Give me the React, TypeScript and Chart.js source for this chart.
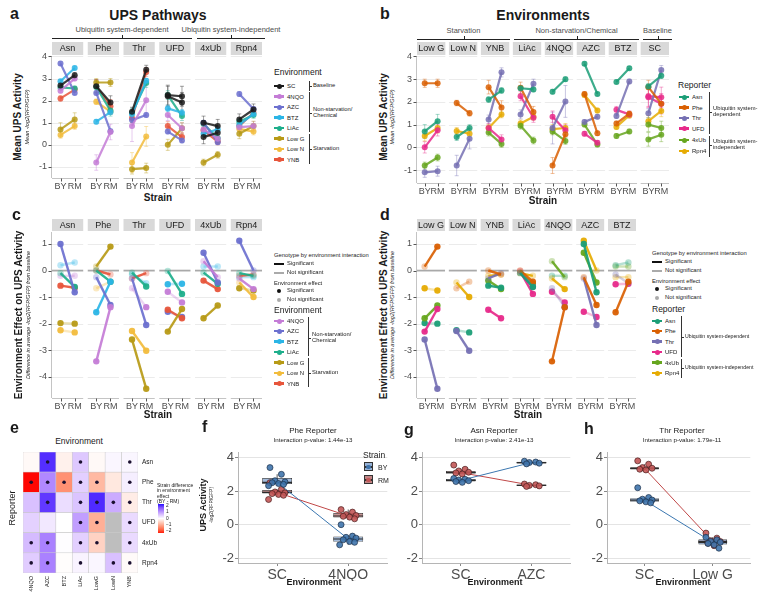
import React, { useEffect, useRef } from 'react';
import { Chart, registerables } from 'chart.js';
Chart.register(...registerables);

const FONT = '"Liberation Sans", Arial, Helvetica, sans-serif';
Chart.defaults.font.family = FONT;

// ---------------- categories & tick labels ----------------
const reporters = ['Asn', 'Phe', 'Thr', 'UFD', '4xUb', 'Rpn4'];
const environments = ['SC', '4NQO', 'AZC', 'BTZ', 'LiAc', 'Low G', 'Low N', 'YNB'];
const effEnvironments = ['4NQO', 'AZC', 'BTZ', 'LiAc', 'Low G', 'Low N', 'YNB'];
const envFacetsB = ['Low G', 'Low N', 'YNB', 'LiAc', '4NQO', 'AZC', 'BTZ', 'SC'];
const envFacetsD = ['Low G', 'Low N', 'YNB', 'LiAc', '4NQO', 'AZC', 'BTZ'];
const heatEnvLabels = ['4NQO', 'AZC', 'BTZ', 'LiAc', 'LowG', 'LowN', 'YNB'];
const strainTicks = ['BY', 'RM'];
const yTicksMean = [-1, 0, 1, 2, 3, 4];
const yTicksEffect = [-4, -3, -2, -1, 0, 1];
const yTicksBox = [-2, 0, 2, 4];
const colorbarTicks = [2, 1, 0, -1, -2];

// ---------------- mean UPS activity (order of `environments`) ----------------
const asnBY = [2.68, 2.45, 3.68, 2.88, 2.6, 0.7, 0.45, 2.1];
const asnRM = [3.15, 3.0, 2.35, 3.48, 2.55, 1.15, 0.85, 2.5];
const pheBY = [2.65, -0.8, 2.35, 1.05, 2.62, 2.82, 1.95, 2.65];
const pheRM = [1.92, 0.58, 0.62, 1.48, 1.55, 2.82, 1.5, 1.75];
const thrBY = [1.5, 0.85, 1.12, 1.38, 1.45, -1.1, -0.8, 1.22];
const thrRM = [3.4, 2.02, 1.35, 2.9, 2.8, -1.05, 0.38, 3.3];
const ufdBY = [2.25, 1.35, 0.6, 1.65, 2.25, 0.0, null, 0.85];
const ufdRM = [2.2, 0.75, 0.2, 1.45, 1.3, 0.75, null, 0.35];
const ub4BY = [1.0, 0.7, 1.0, 0.5, 0.95, -0.8, null, 0.65];
const ub4RM = [0.85, 0.28, 0.12, 0.7, 0.3, -0.45, null, 0.15];
const rpnBY = [1.15, 0.8, 2.3, 0.9, 1.05, 0.5, 0.72, 0.85];
const rpnRM = [1.6, 0.85, 1.62, 1.4, 1.35, 0.85, 0.6, 1.45];
// second SC baseline measurement (order of `reporters`)
const sc2BY = [null, null, null, 2.2, 0.35, null];
const sc2RM = [null, null, null, 1.92, 0.55, null];
// error bar half-widths (order of `environments`)
const asnErr = [0.12, 0.1, 0.08, 0.08, 0.1, 0.3, 0.15, 0.12];
const pheErr = [0.3, 0.35, 0.1, 0.1, 0.25, 0.18, 0.12, 0.3];
const thrErr = [0.2, 0.7, 0.1, 0.1, 0.2, 0.22, 0.45, 0.2];
const ufdErr = [0.45, 0.25, 0.1, 0.15, 0.2, 0.25, 0, 0.2];
const ub4Err = [0.3, 0.15, 0.1, 0.1, 0.15, 0.15, 0, 0.15];
const rpnErr = [0.25, 0.2, 0.1, 0.1, 0.15, 0.22, 0.15, 0.15];

// ---------------- environment effects (order of `effEnvironments`) ----------------
const asnEffBY = [-0.2, 1.0, 0.2, -0.1, -1.98, -2.25, -0.57];
const asnEffRM = [-0.2, -0.82, 0.3, -0.62, -2.0, -2.33, -0.65];
const asnInt = [0, 1, 0, 1, 0, 0, 1];
const asnSigBY = [0, 1, 0, 0, 1, 1, 1];
const asnSigRM = [0, 1, 0, 1, 1, 1, 1];
const pheEffBY = [-3.42, -0.25, -1.57, 0.0, 0.15, -0.67, 0.0];
const pheEffRM = [-1.38, -1.3, -0.42, -0.42, 0.9, -0.42, -0.15];
const pheInt = [1, 1, 1, 1, 1, 0, 1];
const pheSigBY = [1, 0, 1, 0, 0, 0, 0];
const pheSigRM = [1, 1, 1, 1, 1, 0, 0];
const thrEffBY = [-0.67, -0.3, -0.15, -0.08, -2.6, -2.28, -0.3];
const thrEffRM = [-1.38, -2.05, -0.48, -0.6, -4.45, -3.02, -0.1];
const thrInt = [0, 1, 0, 1, 1, 1, 1];
const thrSigBY = [0, 0, 0, 0, 1, 1, 0];
const thrSigRM = [1, 1, 0, 1, 1, 1, 0];
const ufdEffBY = [-0.8, -1.55, -0.52, -0.02, -2.3, null, -1.48];
const ufdEffRM = [-1.2, -1.75, -0.5, -0.88, -1.45, null, -1.8];
const ufdInt = [0, 0, 0, 1, 1, 0, 1];
const ufdSigBY = [1, 1, 1, 0, 1, 0, 1];
const ufdSigRM = [1, 1, 1, 1, 1, 0, 1];
const ub4EffBY = [0.35, 0.67, 0.15, -0.08, -1.8, null, -0.38];
const ub4EffRM = [-0.25, -0.45, 0.15, -0.5, -1.32, null, -0.7];
const ub4Int = [1, 1, 0, 1, 1, 0, 1];
const ub4SigBY = [0, 1, 0, 0, 1, 0, 1];
const ub4SigRM = [0, 1, 0, 1, 1, 0, 1];
const rpnEffBY = [-0.3, 1.12, -0.25, -0.1, -0.67, -0.45, -0.2];
const rpnEffRM = [-0.7, 0.0, -0.25, -0.2, -0.75, -1.0, -0.15];
const rpnInt = [1, 1, 0, 1, 0, 1, 1];
const rpnSigBY = [0, 1, 0, 0, 1, 0, 0];
const rpnSigRM = [1, 0, 0, 0, 1, 1, 0];

// ---------------- heatmap: strain difference in environment effect (BY - RM) ----------------
const asnHm = [-0.06, 1.82, -0.15, 0.48, -0.06, 0.08, 0.08];
const pheHm = [-2.04, 1.05, -1.15, 0.42, -0.75, -0.25, 0.15];
const thrHm = [0.55, 1.75, 0.3, 0.52, 1.85, 0.74, -0.2];
const ufdHm = [0.4, 0.2, 0.0, 0.86, -0.85, null, 0.32];
const ub4Hm = [0.6, 1.12, 0.02, 0.42, -0.48, null, 0.32];
const rpnHm = [0.45, 1.12, -0.02, 0.1, 0.08, 0.55, -0.05];

// ---------------- single reporter box plots: [min, q1, median, q3, max] and points ----------------
const fEnvs = ['SC', '4NQO'];
const fPtsBY_1 = [3.4, 3.0, 2.62, 2.55, 2.5, 2.45, 2.4, 2.32];
const fPtsBY_2 = [0.0, -0.68, -0.75, -0.8, -0.9, -1.0, -1.05, -1.2];
const fPtsRM_1 = [2.5, 2.1, 1.95, 1.9, 1.85, 1.8, 1.75, 1.5];
const fPtsRM_2 = [0.9, 0.75, 0.6, 0.55, 0.5, 0.45, 0.35];
const fBoxBY_1 = [2.32, 2.42, 2.52, 2.78, 3.0];
const fBoxBY_2 = [-1.2, -1.02, -0.85, -0.7, -0.68];
const fBoxRM_1 = [1.75, 1.85, 1.92, 2.06, 2.1];
const fBoxRM_2 = [0.35, 0.43, 0.52, 0.7, 0.9];

const gEnvs = ['SC', 'AZC'];
const gPtsBY_1 = [2.75, 2.7, 2.66, 2.62, 2.57, 2.52];
const gPtsBY_2 = [3.78, 3.73, 3.7, 3.66, 3.62];
const gPtsRM_1 = [3.55, 3.3, 3.2, 3.12, 3.08, 3.02];
const gPtsRM_2 = [2.42, 2.38, 2.34, 2.31, 2.28];
const gBoxBY_1 = [2.52, 2.57, 2.64, 2.72, 2.75];
const gBoxBY_2 = [3.62, 3.64, 3.7, 3.75, 3.78];
const gBoxRM_1 = [3.02, 3.05, 3.1, 3.2, 3.3];
const gBoxRM_2 = [2.28, 2.3, 2.35, 2.39, 2.42];

const hEnvs = ['SC', 'Low G'];
const hPtsBY_1 = [2.2, 1.62, 1.52, 1.47, 1.42, 1.36, 1.3];
const hPtsBY_2 = [-0.75, -0.9, -1.0, -1.05, -1.12, -1.2, -1.4];
const hPtsRM_1 = [3.8, 3.6, 3.4, 3.36, 3.3, 3.26];
const hPtsRM_2 = [-0.5, -0.8, -0.95, -1.0, -1.1, -1.25];
const hBoxBY_1 = [1.3, 1.36, 1.46, 1.58, 1.62];
const hBoxBY_2 = [-1.4, -1.18, -1.05, -0.88, -0.75];
const hBoxRM_1 = [3.26, 3.29, 3.35, 3.42, 3.6];
const hBoxRM_2 = [-1.25, -1.12, -1.0, -0.88, -0.8];
const jitterX = [-0.1, 0.06, -0.03, 0.11, -0.07, 0.02, 0.09, -0.12, 0.0];

// ---------------- styling ----------------
const envColors = ['#1A1A1A', '#C47CD6', '#6C70CF', '#2BB5E6', '#1DAE8B', '#B79A16', '#F2BC3C', '#E7553B'];
const reporterColors = ['#1B9E77', '#D95F02', '#7570B3', '#E7298A', '#66A61E', '#E6AB02'];

const meanBY = [asnBY, pheBY, thrBY, ufdBY, ub4BY, rpnBY];
const meanRM = [asnRM, pheRM, thrRM, ufdRM, ub4RM, rpnRM];
const meanErr = [asnErr, pheErr, thrErr, ufdErr, ub4Err, rpnErr];
const effBY = [asnEffBY, pheEffBY, thrEffBY, ufdEffBY, ub4EffBY, rpnEffBY];
const effRM = [asnEffRM, pheEffRM, thrEffRM, ufdEffRM, ub4EffRM, rpnEffRM];
const effInt = [asnInt, pheInt, thrInt, ufdInt, ub4Int, rpnInt];
const effSigBY = [asnSigBY, pheSigBY, thrSigBY, ufdSigBY, ub4SigBY, rpnSigBY];
const effSigRM = [asnSigRM, pheSigRM, thrSigRM, ufdSigRM, ub4SigRM, rpnSigRM];
const heatRows = [asnHm, pheHm, thrHm, ufdHm, ub4Hm, rpnHm];

const rgba = (hex: string, a: number) => {
  const n = parseInt(hex.slice(1), 16);
  return `rgba(${(n >> 16) & 255},${(n >> 8) & 255},${n & 255},${a})`;
};

// diverging red-white-blue in CIELAB (like scale_fill_gradient2)
const lin = (c: number) => { c /= 255; return c <= 0.04045 ? c / 12.92 : Math.pow((c + 0.055) / 1.055, 2.4); };
const unlin = (c: number) => { const v = c <= 0.0031308 ? 12.92 * c : 1.055 * Math.pow(c, 1 / 2.4) - 0.055; return Math.round(Math.max(0, Math.min(1, v)) * 255); };
const toLab = (rgb: number[]) => {
  const R = lin(rgb[0]), G = lin(rgb[1]), B = lin(rgb[2]);
  const X = (0.4124 * R + 0.3576 * G + 0.1805 * B) / 0.95047;
  const Y = 0.2126 * R + 0.7152 * G + 0.0722 * B;
  const Z = (0.0193 * R + 0.1192 * G + 0.9505 * B) / 1.08883;
  const f = (t: number) => (t > 0.008856 ? Math.cbrt(t) : 7.787 * t + 16 / 116);
  const fx = f(X), fy = f(Y), fz = f(Z);
  return [116 * fy - 16, 500 * (fx - fy), 200 * (fy - fz)];
};
const fromLab = (lab: number[]) => {
  const fy = (lab[0] + 16) / 116, fx = fy + lab[1] / 500, fz = fy - lab[2] / 200;
  const inv = (t: number) => (t * t * t > 0.008856 ? t * t * t : (t - 16 / 116) / 7.787);
  const X = inv(fx) * 0.95047, Y = inv(fy), Z = inv(fz) * 1.08883;
  return [
    unlin(3.2406 * X - 1.5372 * Y - 0.4986 * Z),
    unlin(-0.9689 * X + 1.8758 * Y + 0.0415 * Z),
    unlin(0.0557 * X - 0.204 * Y + 1.057 * Z),
  ];
};
const LAB_W = toLab([255, 255, 255]);
const LAB_B = toLab([0, 0, 255]);
const LAB_R = toLab([255, 0, 0]);
const divColor = (v: number) => {
  const t = Math.min(1, Math.abs(v) / 2.05);
  const end = v >= 0 ? LAB_B : LAB_R;
  const c = fromLab(LAB_W.map((w, k) => w + (end[k] - w) * t));
  return `rgb(${c[0]},${c[1]},${c[2]})`;
};

// ---------------- facet helpers ----------------
const SPAN = 2.2;

function facetPlugin(labels: string[], gap: number, stripH: number, grid: number[], zero: boolean) {
  const P = SPAN + gap;
  const line = (ctx: any, a: number, b: number, c: number, d: number) => { ctx.beginPath(); ctx.moveTo(a, b); ctx.lineTo(c, d); ctx.stroke(); };
  return {
    id: 'facets',
    beforeDatasetsDraw(chart: any) {
      const { ctx, chartArea: ca, scales } = chart;
      const xs = scales.x, ys = scales.y;
      ctx.save();
      labels.forEach((lab, i) => {
        const x0 = xs.getPixelForValue(i * P), x1 = xs.getPixelForValue(i * P + SPAN);
        ctx.fillStyle = '#D9D9D9';
        ctx.fillRect(x0, ca.top - stripH - 1, x1 - x0, stripH);
        ctx.fillStyle = '#1A1A1A';
        ctx.font = `9px ${FONT}`;
        ctx.textAlign = 'center';
        ctx.textBaseline = 'middle';
        ctx.fillText(lab, (x0 + x1) / 2, ca.top - 1 - stripH / 2 + 0.5);
        ctx.lineWidth = 1;
        ctx.strokeStyle = '#EBEBEB';
        grid.forEach((v) => { const py = Math.round(ys.getPixelForValue(v)) + 0.5; line(ctx, x0, py, x1, py); });
        if (zero) {
          ctx.strokeStyle = '#A9A9A9';
          ctx.lineWidth = 1.6;
          const py = ys.getPixelForValue(0);
          line(ctx, x0, py, x1, py);
        }
        ctx.strokeStyle = '#C4C4C4';
        ctx.lineWidth = 1;
        const by = Math.round(ca.bottom) + 0.5;
        line(ctx, x0, by, x1, by);
        ctx.strokeStyle = '#555';
        [0.6, 1.6].forEach((o) => { const px = Math.round(xs.getPixelForValue(i * P + o)) + 0.5; line(ctx, px, by, px, by + 3); });
      });
      const lx = Math.round(ca.left) - 0.5;
      ctx.strokeStyle = '#C4C4C4';
      ctx.lineWidth = 1;
      line(ctx, lx, ca.top, lx, ca.bottom);
      ctx.strokeStyle = '#555';
      grid.forEach((v) => { const py = Math.round(ys.getPixelForValue(v)) + 0.5; line(ctx, lx - 3, py, lx, py); });
      // error bars
      chart.data.datasets.forEach((ds: any, di: number) => {
        if (!ds.errs) return;
        const meta = chart.getDatasetMeta(di);
        ctx.strokeStyle = ds.errColor;
        ctx.lineWidth = 0.8;
        meta.data.forEach((pt: any, j: number) => {
          const d = ds.data[j];
          const e = ds.errs[j];
          if (!d || d.y == null || !e) return;
          const ya = ys.getPixelForValue(d.y - e), yb = ys.getPixelForValue(d.y + e);
          line(ctx, pt.x, ya, pt.x, yb);
          line(ctx, pt.x - 2, ya, pt.x + 2, ya);
          line(ctx, pt.x - 2, yb, pt.x + 2, yb);
        });
      });
      ctx.restore();
    },
  };
}

function facetConfig(o: { labels: string[]; gap: number; datasets: any[]; yMin: number; yMax: number; grid: number[]; zero: boolean; yAxisW: number; xAxisH: number; stripH: number }) {
  const P = SPAN + o.gap;
  const n = o.labels.length;
  const xMax = n * P - o.gap;
  const xt: number[] = [];
  for (let i = 0; i < n; i++) xt.push(i * P + 0.6, i * P + 1.6);
  return {
    type: 'line',
    data: { datasets: o.datasets },
    options: {
      animation: false,
      responsive: false,
      devicePixelRatio: 1,
      layout: { padding: { top: o.stripH + 1, right: 1, left: 0, bottom: 0 } },
      plugins: { legend: { display: false }, tooltip: { enabled: false } },
      scales: {
        x: {
          type: 'linear', min: 0, max: xMax,
          grid: { display: false, drawTicks: false }, border: { display: false },
          afterBuildTicks: (s: any) => { s.ticks = xt.map((v) => ({ value: v })); },
          afterFit: (s: any) => { s.height = o.xAxisH; },
          ticks: {
            autoSkip: false, maxRotation: 0, minRotation: 0, padding: 3,
            font: { size: 9, family: FONT }, color: '#4D4D4D',
            callback: (v: any) => { const r = v - Math.floor(v / P + 1e-9) * P; return r < 1.1 ? strainTicks[0] : strainTicks[1]; },
          },
        },
        y: {
          type: 'linear', min: o.yMin, max: o.yMax,
          grid: { display: false, drawTicks: false }, border: { display: false },
          afterBuildTicks: (s: any) => { s.ticks = o.grid.map((v) => ({ value: v })); },
          afterFit: (s: any) => { s.width = o.yAxisW; },
          ticks: { padding: 5, font: { size: 9, family: FONT }, color: '#4D4D4D', callback: (v: any) => String(v) },
        },
      },
    },
    plugins: [facetPlugin(o.labels, o.gap, o.stripH, o.grid, o.zero)],
  };
}

function meanSeries(count: number, gap: number, getBY: (f: number) => any, getRM: (f: number) => any, getErr: (f: number) => number) {
  const P = SPAN + gap;
  const data: any[] = [];
  const errs: number[] = [];
  for (let f = 0; f < count; f++) {
    data.push({ x: f * P + 0.6, y: getBY(f) }, { x: f * P + 1.6, y: getRM(f) }, { x: f * P + 2.1, y: null });
    errs.push(getErr(f), getErr(f), 0);
  }
  return { data, errs };
}

function meanDataset(color: string, s: { data: any[]; errs: number[] }) {
  return {
    data: s.data, errs: s.errs, errColor: rgba(color, 0.5),
    borderColor: rgba(color, 0.85), backgroundColor: rgba(color, 0.85),
    pointBackgroundColor: rgba(color, 0.85), pointBorderWidth: 0, pointRadius: 3,
    borderWidth: 2.2, spanGaps: false, tension: 0,
  };
}

function segDataset(color: string, facet: number, gap: number, by: number, rm: number, intSig: number, sBY: number, sRM: number) {
  const P = SPAN + gap;
  return {
    data: [{ x: facet * P + 0.6, y: by }, { x: facet * P + 1.6, y: rm }],
    borderColor: rgba(color, intSig ? 0.92 : 0.32),
    pointBackgroundColor: [rgba(color, sBY ? 0.95 : 0.32), rgba(color, sRM ? 0.95 : 0.32)],
    pointBorderWidth: 0, pointRadius: 3.2, borderWidth: 2.4, order: intSig ? 0 : 1,
  };
}

// ---------------- panel data builders ----------------
const GAP_A = 0.32, GAP_B = 0.28, GAP_D = 0.3;

const datasetsA = (() => {
  const ds: any[] = [];
  ds.push(meanDataset(envColors[0], meanSeries(6, GAP_A, (r) => sc2BY[r], (r) => sc2RM[r], (r) => meanErr[r][0])));
  environments.forEach((_, e) => {
    ds.push(meanDataset(envColors[e], meanSeries(6, GAP_A, (r) => meanBY[r][e], (r) => meanRM[r][e], (r) => meanErr[r][e])));
  });
  return ds;
})();

const datasetsB = (() => {
  const ds: any[] = [];
  reporters.forEach((_, r) => {
    const idx = (f: number) => environments.indexOf(envFacetsB[f]);
    ds.push(meanDataset(reporterColors[r], meanSeries(8, GAP_B, (f) => meanBY[r][idx(f)], (f) => meanRM[r][idx(f)], (f) => meanErr[r][idx(f)])));
    if (sc2BY[r] != null) {
      ds.push(meanDataset(reporterColors[r], meanSeries(8, GAP_B,
        (f) => (envFacetsB[f] === 'SC' ? sc2BY[r] : null),
        (f) => (envFacetsB[f] === 'SC' ? sc2RM[r] : null),
        () => meanErr[r][0])));
    }
  });
  return ds;
})();

const datasetsC = (() => {
  const ds: any[] = [];
  reporters.forEach((_, r) => {
    effEnvironments.forEach((_e, e) => {
      if (effBY[r][e] == null) return;
      ds.push(segDataset(envColors[e + 1], r, GAP_A, effBY[r][e] as number, effRM[r][e] as number, effInt[r][e], effSigBY[r][e], effSigRM[r][e]));
    });
  });
  return ds;
})();

const datasetsD = (() => {
  const ds: any[] = [];
  envFacetsD.forEach((env, f) => {
    const e = effEnvironments.indexOf(env);
    reporters.forEach((_, r) => {
      if (effBY[r][e] == null) return;
      ds.push(segDataset(reporterColors[r], f, GAP_D, effBY[r][e] as number, effRM[r][e] as number, effInt[r][e], effSigBY[r][e], effSigRM[r][e]));
    });
  });
  return ds;
})();

function heatConfig() {
  const datasets: any[] = heatRows.map((row, ri) => ({
    type: 'bar',
    data: row.map(() => [heatRows.length - 1 - ri, heatRows.length - ri]),
    backgroundColor: row.map((v) => (v == null ? '#BEBEBE' : divColor(v))),
    borderColor: 'rgba(175,175,175,0.55)', borderWidth: 0.6, borderSkipped: false,
    barPercentage: 1, categoryPercentage: 1, grouped: false, order: 2,
  }));
  const dots: any[] = [];
  effInt.forEach((row, ri) => row.forEach((s, ci) => { if (s) dots.push({ x: heatEnvLabels[ci], y: heatRows.length - 0.5 - ri }); }));
  datasets.push({ type: 'scatter', data: dots, pointRadius: 1.8, pointBackgroundColor: '#1B1030', pointBorderWidth: 0, order: 0 });
  return {
    type: 'bar',
    data: { labels: heatEnvLabels, datasets },
    options: {
      animation: false, responsive: false, devicePixelRatio: 1,
      layout: { padding: 0 },
      plugins: { legend: { display: false }, tooltip: { enabled: false } },
      scales: {
        x: {
          type: 'category', grid: { display: false, drawTicks: false }, border: { display: false },
          ticks: { maxRotation: 90, minRotation: 90, padding: 3, font: { size: 5.5, family: FONT }, color: '#1A1A1A' },
          afterFit: (s: any) => { s.height = 20; },
        },
        y: {
          type: 'linear', position: 'right', min: 0, max: heatRows.length,
          grid: { display: false, drawTicks: false }, border: { display: false },
          afterBuildTicks: (s: any) => { s.ticks = reporters.map((_, i) => ({ value: i + 0.5 })); },
          afterFit: (s: any) => { s.width = 22; },
          ticks: { padding: 4, font: { size: 6.5, family: FONT }, color: '#1A1A1A', callback: (v: any) => reporters[Math.round(reporters.length - 0.5 - v)] },
        },
      },
    },
  };
}

const BY_COL = '#3F74AC', RM_COL = '#C25656';

function boxConfig(envs: string[], boxBY: number[][], boxRM: number[][], ptsBY: number[][], ptsRM: number[][]) {
  const pts = (arrs: number[][]) => arrs.flatMap((arr, ei) => arr.map((v, i) => ({ x: ei + 1 + jitterX[i % jitterX.length], y: v })));
  const rng = (boxes: number[][], lo: number, hi: number) => boxes.map((b, ei) => ({ x: ei + 1, y: [b[lo], b[hi]] }));
  const med = (boxes: number[][]) => boxes.map((b, ei) => ({ x: ei + 1, y: [b[2] - 0.035, b[2] + 0.035] }));
  const bar = (data: any, bg: string, pct: number, order: number, bw = 0) => ({
    type: 'bar', data, backgroundColor: bg, borderColor: '#2D2D2D', borderWidth: bw, borderSkipped: false,
    barPercentage: pct, categoryPercentage: 1, grouped: false, order,
  });
  const datasets: any[] = [
    { type: 'scatter', data: pts(ptsBY), pointRadius: 3, pointBackgroundColor: rgba(BY_COL, 0.9), pointBorderColor: '#1D2F48', pointBorderWidth: 0.7, order: 0 },
    { type: 'scatter', data: pts(ptsRM), pointRadius: 3, pointBackgroundColor: rgba(RM_COL, 0.9), pointBorderColor: '#4A1E1E', pointBorderWidth: 0.7, order: 0 },
    { type: 'line', data: boxBY.map((b, ei) => ({ x: ei + 1, y: b[2] })), borderColor: '#3B77B0', borderWidth: 1, pointRadius: 0, order: 1 },
    { type: 'line', data: boxRM.map((b, ei) => ({ x: ei + 1, y: b[2] })), borderColor: '#C04848', borderWidth: 1, pointRadius: 0, order: 1 },
    bar(med(boxBY), '#2B2B2B', 0.42, 2),
    bar(med(boxRM), '#2B2B2B', 0.42, 2),
    bar(rng(boxBY, 1, 3), 'rgba(140,170,210,0.8)', 0.42, 3, 0.7),
    bar(rng(boxRM, 1, 3), 'rgba(185,120,120,0.8)', 0.42, 3, 0.7),
    bar(rng(boxBY, 0, 4), '#3A3A3A', 0.012, 4),
    bar(rng(boxRM, 0, 4), '#3A3A3A', 0.012, 4),
  ];
  return {
    type: 'bar',
    data: { datasets },
    options: {
      animation: false, responsive: false, devicePixelRatio: 1,
      layout: { padding: { top: 3, right: 2, left: 0, bottom: 0 } },
      plugins: { legend: { display: false }, tooltip: { enabled: false } },
      scales: {
        x: {
          type: 'linear', min: 0.45, max: 2.55, offset: false,
          grid: { display: true, drawOnChartArea: false, drawTicks: true, tickLength: 3, color: '#888', offset: false },
          border: { display: true, color: '#B5B5B5' },
          afterBuildTicks: (s: any) => { s.ticks = envs.map((_, i) => ({ value: i + 1 })); },
          afterFit: (s: any) => { s.height = 18; },
          ticks: { padding: 1, font: { size: 14, family: FONT }, color: '#4D4D4D', callback: (v: any) => envs[Math.round(v) - 1] },
        },
        y: {
          type: 'linear', min: -2.28, max: 4.28,
          grid: { display: true, color: '#E4E4E4', drawTicks: true, tickLength: 3, tickColor: '#888' },
          border: { display: true, color: '#B5B5B5' },
          afterBuildTicks: (s: any) => { s.ticks = yTicksBox.map((v) => ({ value: v })); },
          afterFit: (s: any) => { s.width = 22; },
          ticks: { padding: 1, font: { size: 13, family: FONT }, color: '#4D4D4D', callback: (v: any) => String(v) },
        },
      },
    },
  };
}

// ---------------- React components ----------------
function ChartBox({ left, top, width, height, config }: { left: number; top: number; width: number; height: number; config: any }) {
  const ref = useRef<HTMLCanvasElement>(null);
  useEffect(() => {
    const chart = new Chart(ref.current as HTMLCanvasElement, config);
    return () => chart.destroy();
  }, []);
  return <canvas ref={ref} width={width} height={height} style={{ position: 'absolute', left, top, width, height }} />;
}

type TP = { x: number; y: number; s: number; children?: any; a?: 'l' | 'c' | 'r'; b?: boolean; i?: boolean; c?: string; r?: boolean };
const T = ({ x, y, s, children, a = 'l', b, i, c = '#1A1A1A', r }: TP) => (
  <div
    style={{
      position: 'absolute', left: x, top: y, fontSize: s, fontWeight: b ? 700 : 400, fontStyle: i ? 'italic' : 'normal',
      color: c, whiteSpace: 'pre', lineHeight: 1,
      transform: `translate(${r || a === 'c' ? '-50%' : a === 'l' ? '0' : '-100%'}, -50%)${r ? ' rotate(-90deg)' : ''}`,
    }}
  >
    {children}
  </div>
);

const Box = ({ x, y, w, h, bg }: { x: number; y: number; w: number; h: number; bg: string }) => (
  <div style={{ position: 'absolute', left: x, top: y, width: w, height: h, background: bg }} />
);

const LineKey = ({ x, y, color, w = 10, h = 2.2, dot = 2.5 }: { x: number; y: number; color: string; w?: number; h?: number; dot?: number }) => (
  <>
    <Box x={x} y={y - h / 2} w={w} h={h} bg={color} />
    {dot > 0 && <div style={{ position: 'absolute', left: x + w / 2 - dot, top: y - dot, width: dot * 2, height: dot * 2, borderRadius: '50%', background: color }} />}
  </>
);

const Dot = ({ x, y, r, color }: { x: number; y: number; r: number; color: string }) => (
  <div style={{ position: 'absolute', left: x - r, top: y - r, width: 2 * r, height: 2 * r, borderRadius: '50%', background: color }} />
);

const Group = ({ x, y1, y2, ym, lines, s = 5.8 }: { x: number; y1: number; y2: number; ym: number; lines: string[]; s?: number }) => (
  <>
    <Box x={x} y={y1} w={0.8} h={y2 - y1} bg="#333" />
    <Box x={x} y={ym} w={3} h={0.8} bg="#333" />
    {lines.map((l, k) => (
      <T key={k} x={x + 4} y={ym + (k - (lines.length - 1) / 2) * 6.2} s={s}>{l}</T>
    ))}
  </>
);

const TopBracket = ({ x1, x2, y, label }: { x1: number; x2: number; y: number; label: string }) => (
  <>
    <Box x={x1} y={y} w={x2 - x1} h={1} bg="#222222" />
    <Box x={(x1 + x2) / 2} y={y - 3} w={0.8} h={3} bg="#222222" />
    <T x={(x1 + x2) / 2} y={y - 8} s={7.5} a="c" c="#4D4D4D">{label}</T>
  </>
);

const SigLegend = ({ x, y }: { x: number; y: number }) => (
  <>
    <T x={x} y={y} s={5.8}>Genotype by environment interaction</T>
    <Box x={x} y={y + 6.7} w={10} h={2.6} bg="#111" />
    <T x={x + 13} y={y + 8} s={5.8}>Significant</T>
    <Box x={x} y={y + 15.7} w={10} h={2.6} bg="#AAAAAA" />
    <T x={x + 13} y={y + 17} s={5.8}>Not significant</T>
    <T x={x} y={y + 27.5} s={5.8}>Environment effect</T>
    <Dot x={x + 5} y={y + 35} r={2} color="#111" />
    <T x={x + 13} y={y + 35} s={5.8}>Significant</T>
    <Dot x={x + 5} y={y + 43.5} r={2} color="#AAAAAA" />
    <T x={x + 13} y={y + 43.5} s={5.8}>Not significant</T>
  </>
);

const StrainKey = ({ x, y, fill, dot, label }: { x: number; y: number; fill: string; dot: string; label: string }) => (
  <>
    <div style={{ position: 'absolute', left: x, top: y - 5, width: 9, height: 9, background: fill, border: '0.8px solid #333', boxSizing: 'border-box' }} />
    <Box x={x} y={y - 0.6} w={9} h={1.2} bg="#333" />
    <Dot x={x + 4.5} y={y} r={2.3} color={dot} />
    <T x={x + 14} y={y} s={7}>{label}</T>
  </>
);

export default function App() {
  const legA = [86, 96.5, 107, 117.5, 128, 138.5, 149, 159.5];
  const legB = [97, 107.5, 118, 128.5, 140, 151];
  const legC = [321, 331, 341.5, 352, 362.5, 373, 383.5];
  const legD = [321, 331, 341.5, 352, 362.5, 373];
  const cbStops = [2, 1.5, 1, 0.5, 0, -0.5, -1, -1.5, -2].map((v) => `${divColor(v)} ${((2 - v) / 4) * 100}%`).join(', ');

  return (
    <div style={{ position: 'absolute', left: 0, top: 0, width: 760, height: 593, background: '#FFFFFF', fontFamily: FONT, overflow: 'hidden', color: '#1A1A1A' }}>
      {/* ---------------- panel a ---------------- */}
      <T x={10} y={14} s={16} b>a</T>
      <T x={158} y={15} s={14} b a="c">UPS Pathways</T>
      <TopBracket x1={52} x2={192} y={38} label="Ubiquitin system-dependent" />
      <TopBracket x1={197} x2={265} y={38} label="Ubiquitin system-independent" />
      <ChartBox left={30} top={42} width={236} height={150}
        config={facetConfig({ labels: reporters, gap: GAP_A, datasets: datasetsA, yMin: -1.5, yMax: 4.02, grid: yTicksMean, zero: false, yAxisW: 22, xAxisH: 14, stripH: 13 })} />
      <T x={18} y={117} s={10} b r>Mean UPS Activity</T>
      <T x={28} y={117} s={5.5} i r>Mean -log2(RFP/GFP)</T>
      <T x={158} y={198} s={10} b a="c">Strain</T>
      <T x={274} y={72} s={8.5}>Environment</T>
      {environments.map((env, e) => (
        <React.Fragment key={env}>
          <LineKey x={274} y={legA[e]} color={envColors[e]} />
          <T x={287} y={legA[e]} s={6}>{env}</T>
        </React.Fragment>
      ))}
      <Group x={309} y1={81} y2={91} ym={86} lines={['Baseline']} />
      <Group x={309} y1={92} y2={132} ym={113} lines={['Non-starvation/', 'Chemical']} />
      <Group x={309} y1={134} y2={164} ym={149} lines={['Starvation']} />

      {/* ---------------- panel b ---------------- */}
      <T x={380} y={14} s={16} b>b</T>
      <T x={543} y={15} s={14} b a="c">Environments</T>
      <TopBracket x1={417} x2={510} y={39} label="Starvation" />
      <TopBracket x1={514} x2={639} y={39} label="Non-starvation/Chemical" />
      <TopBracket x1={643} x2={672} y={39} label="Baseline" />
      <ChartBox left={397} top={42} width={276} height={155}
        config={facetConfig({ labels: envFacetsB, gap: GAP_B, datasets: datasetsB, yMin: -1.57, yMax: 4.02, grid: yTicksMean, zero: false, yAxisW: 20, xAxisH: 14, stripH: 13 })} />
      <T x={384} y={117} s={10} b r>Mean UPS Activity</T>
      <T x={393} y={117} s={5.5} i r>Mean -log2(RFP/GFP)</T>
      <T x={543} y={201} s={10} b a="c">Strain</T>
      <T x={678} y={85} s={8.5}>Reporter</T>
      {reporters.map((rep, r) => (
        <React.Fragment key={rep}>
          <LineKey x={679} y={legB[r]} color={reporterColors[r]} />
          <T x={692} y={legB[r]} s={6}>{rep}</T>
        </React.Fragment>
      ))}
      <Group x={709} y1={92} y2={134} ym={112} lines={['Ubiquitin system-', 'dependent']} />
      <Group x={709} y1={136} y2={157} ym={145} lines={['Ubiquitin system-', 'independent']} />

      {/* ---------------- panel c ---------------- */}
      <T x={12} y={215} s={16} b>c</T>
      <ChartBox left={30} top={219} width={236} height={193}
        config={facetConfig({ labels: reporters, gap: GAP_A, datasets: datasetsC, yMin: -4.8, yMax: 1.45, grid: yTicksEffect, zero: true, yAxisW: 22, xAxisH: 14, stripH: 12 })} />
      <T x={19} y={315} s={10} b r>Environment Effect on UPS Activity</T>
      <T x={29} y={315} s={5.5} i r>Difference in average -log2(RFP/GFP) from baseline</T>
      <T x={158} y={415} s={10} b a="c">Strain</T>
      <SigLegend x={274} y={256} />
      <T x={274} y={310} s={8.5}>Environment</T>
      {effEnvironments.map((env, e) => (
        <React.Fragment key={env}>
          <LineKey x={274} y={legC[e]} color={envColors[e + 1]} />
          <T x={287} y={legC[e]} s={6}>{env}</T>
        </React.Fragment>
      ))}
      <Group x={308} y1={317} y2={356} ym={338} lines={['Non-starvation/', 'Chemical']} />
      <Group x={308} y1={358} y2={387} ym={373} lines={['Starvation']} />

      {/* ---------------- panel d ---------------- */}
      <T x={380} y={215} s={16} b>d</T>
      <ChartBox left={397} top={219} width={243} height={193}
        config={facetConfig({ labels: envFacetsD, gap: GAP_D, datasets: datasetsD, yMin: -4.8, yMax: 1.45, grid: yTicksEffect, zero: true, yAxisW: 20, xAxisH: 14, stripH: 12 })} />
      <T x={384} y={315} s={10} b r>Environment Effect on UPS Activity</T>
      <T x={393} y={315} s={5.5} i r>Difference in average -log2(RFP/GFP) from baseline</T>
      <T x={528} y={415} s={10} b a="c">Strain</T>
      <SigLegend x={652} y={254} />
      <T x={652} y={309} s={8.5}>Reporter</T>
      {reporters.map((rep, r) => (
        <React.Fragment key={rep}>
          <LineKey x={652} y={legD[r]} color={reporterColors[r]} />
          <T x={665} y={legD[r]} s={6}>{rep}</T>
        </React.Fragment>
      ))}
      <Group x={681} y1={316} y2={357} ym={337} lines={['Ubiquitin system-dependent']} s={5.2} />
      <Group x={681} y1={359} y2={378} ym={368} lines={['Ubiquitin system-independent']} s={5.2} />

      {/* ---------------- panel e ---------------- */}
      <T x={10} y={428} s={16} b>e</T>
      <T x={79} y={441} s={8.5} a="c">Environment</T>
      <T x={12} y={508} s={9} r>Reporter</T>
      <ChartBox left={19} top={444} width={141} height={149} config={heatConfig()} />
      {['Strain difference', 'in environment', 'effect', '(BY - RM)'].map((l, k) => (
        <T key={l} x={157} y={485 + k * 5.4} s={5}>{l}</T>
      ))}
      <div style={{ position: 'absolute', left: 158, top: 504, width: 6, height: 29, background: `linear-gradient(to bottom, ${cbStops})` }} />
      {colorbarTicks.map((v, k) => (
        <T key={v} x={166} y={506 + k * 6.3} s={4.8}>{String(v).replace('-', '\u2212')}</T>
      ))}

      {/* ---------------- panel f ---------------- */}
      <T x={202} y={427} s={16} b>f</T>
      <T x={313} y={431} s={8} a="c">Phe Reporter</T>
      <T x={313} y={439.5} s={6.2} a="c">Interaction p-value: 1.44e-13</T>
      <ChartBox left={216} top={444} width={176} height={137}
        config={boxConfig(fEnvs, [fBoxBY_1, fBoxBY_2], [fBoxRM_1, fBoxRM_2], [fPtsBY_1, fPtsBY_2], [fPtsRM_1, fPtsRM_2])} />
      <T x={203} y={505} s={9} b r>UPS Activity</T>
      <T x={211} y={505} s={5} r>-log2(RFP/GFP)</T>
      <T x={314} y={582} s={9} b a="c">Environment</T>
      <T x={363} y={455} s={8.5}>Strain</T>
      <StrainKey x={364} y={467} fill="rgba(140,170,210,0.9)" dot={BY_COL} label="BY" />
      <StrainKey x={364} y={480} fill="rgba(185,120,120,0.9)" dot={RM_COL} label="RM" />

      {/* ---------------- panel g ---------------- */}
      <T x={404} y={430} s={16} b>g</T>
      <T x={494} y={431} s={8} a="c">Asn Reporter</T>
      <T x={494} y={439.5} s={6.2} a="c">Interaction p-value: 2.41e-13</T>
      <ChartBox left={400} top={444} width={175} height={137}
        config={boxConfig(gEnvs, [gBoxBY_1, gBoxBY_2], [gBoxRM_1, gBoxRM_2], [gPtsBY_1, gPtsBY_2], [gPtsRM_1, gPtsRM_2])} />
      <T x={495} y={582} s={9} b a="c">Environment</T>

      {/* ---------------- panel h ---------------- */}
      <T x={584} y={429} s={16} b>h</T>
      <T x={682} y={431} s={8} a="c">Thr Reporter</T>
      <T x={682} y={439.5} s={6.2} a="c">Interaction p-value: 1.79e-11</T>
      <ChartBox left={585} top={444} width={170} height={137}
        config={boxConfig(hEnvs, [hBoxBY_1, hBoxBY_2], [hBoxRM_1, hBoxRM_2], [hPtsBY_1, hPtsBY_2], [hPtsRM_1, hPtsRM_2])} />
      <T x={683} y={582} s={9} b a="c">Environment</T>
    </div>
  );
}
